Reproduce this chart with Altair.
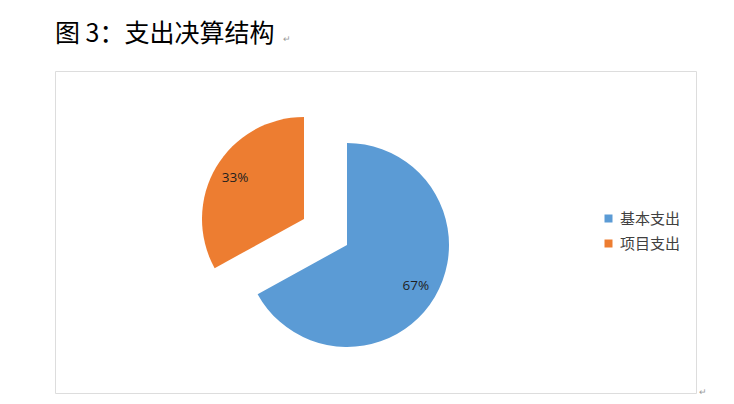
import altair as alt
import pandas as pd

categories = ["基本支出", "项目支出"]
values = [67, 33]
colors = ["#5B9BD5", "#ED7D31"]
title_text = "图 3：支出决算结构"

df = pd.DataFrame({"cat": categories, "value": values, "order": [0, 1]})
df["label"] = df["value"].astype(str) + "%"

CX, CY = 292, 174      # pie centre inside the framed view
R = 102
EX, EY = -43, -26      # explode offset of the second slice
LABEL_R = 80

base = alt.Chart(df).encode(
    theta=alt.Theta("value:Q", stack=True),
    order=alt.Order("order:Q"),
    x=alt.value(CX),
    y=alt.value(CY),
)

color_enc = alt.Color(
    "cat:N",
    scale=alt.Scale(domain=categories, range=colors),
    sort=categories,
    legend=alt.Legend(
        title=None,
        orient="none",
        legendX=546,
        legendY=140,
        symbolType="square",
        symbolSize=64,
        symbolStrokeWidth=0,
        labelFontSize=15,
        labelFont="Noto Sans CJK SC",
        labelColor="#404040",
        rowPadding=9,
        labelOffset=4,
    ),
)

is_main = alt.datum.cat == categories[0]

arc_main = base.mark_arc(outerRadius=R, stroke=None).encode(
    color=color_enc,
    opacity=alt.condition(is_main, alt.value(1), alt.value(0)),
)
arc_exp = base.mark_arc(outerRadius=R, xOffset=EX, yOffset=EY, stroke=None).encode(
    color=alt.Color("cat:N", scale=alt.Scale(domain=categories, range=colors), legend=None),
    opacity=alt.condition(is_main, alt.value(0), alt.value(1)),
)

LBL_SIZE = 13.5
txt_main = base.mark_text(radius=LABEL_R, fontSize=LBL_SIZE, font="Open Sans", color="#1f1f1f").encode(
    text="label:N",
    opacity=alt.condition(is_main, alt.value(1), alt.value(0)),
)
txt_exp = base.mark_text(radius=LABEL_R, fontSize=LBL_SIZE, font="Open Sans", color="#1f1f1f",
                         xOffset=EX, yOffset=EY).encode(
    text="label:N",
    opacity=alt.condition(is_main, alt.value(0), alt.value(1)),
)

title_df = pd.DataFrame({"t": [title_text]})
title_mark = alt.Chart(title_df).mark_text(
    fontSize=25, font="Noto Sans CJK SC", color="#000000", align="left", baseline="alphabetic"
).encode(text="t:N", x=alt.value(0), y=alt.value(-29))

marks_df = pd.DataFrame({"t": ["↵"]})
ret1 = alt.Chart(marks_df).mark_text(fontSize=9, color="#9a9a9a", align="left", baseline="alphabetic").encode(
    text="t:N", x=alt.value(228), y=alt.value(-29))
ret2 = alt.Chart(marks_df).mark_text(fontSize=9, color="#9a9a9a", align="left", baseline="alphabetic").encode(
    text="t:N", x=alt.value(644), y=alt.value(324))

chart = alt.layer(arc_main, arc_exp, txt_main, txt_exp, title_mark, ret1, ret2).properties(
    width=641,
    height=322,
    padding={"left": 47, "top": 63, "right": 30, "bottom": 12},
    autosize=alt.AutoSizeParams(type="none"),
).configure_view(
    stroke="#A6A6A6",
    strokeWidth=1,
).configure(background="white")

chart.save("out.html", embed_options={"renderer": "svg", "actions": False})
